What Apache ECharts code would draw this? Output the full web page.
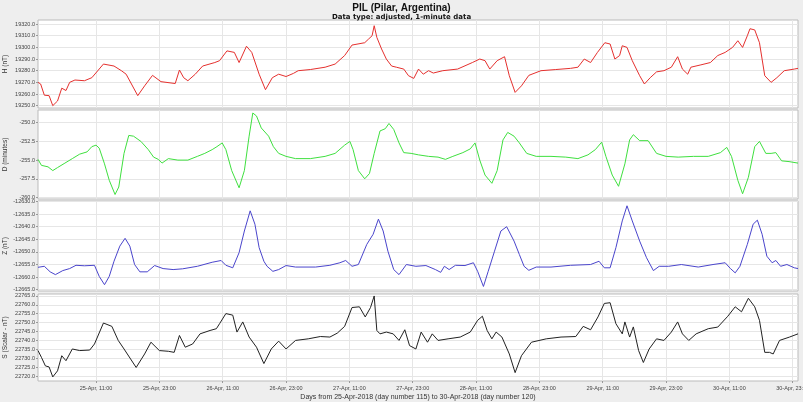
<!DOCTYPE html>
<html>
<head>
<meta charset="utf-8">
<script src="https://cdn.jsdelivr.net/npm/echarts@6/dist/echarts.min.js"></script>
<style>
html,body{margin:0;padding:0;background:#eeeeee;}
#chart{width:803px;height:402px;}
</style>
</head>
<body>
<div id="chart"></div>
<script>
// Hours since 25-Apr-2018 00:00 (x) and values
const H_hours = [0,0.5,1.2,2.1,2.8,3.7,4.5,5.3,6.0,7.0,8.8,10.2,12.4,14.4,15.8,16.7,18.9,20.2,21.7,23.3,26,26.8,27.6,28.4,29.8,31.2,33.5,34.4,35.8,37.2,38.1,39.5,40.5,41.9,43.1,44.4,45.6,47,48.4,49.3,51.6,54.4,56.3,58.1,59.5,61.9,62.6,63.3,63.7,64.2,65.1,66,67,67.9,69.3,70.2,71.2,72.1,73,74,74.9,76.7,79.5,82.3,83.7,84.7,85.6,87,88.4,89.3,90.4,91.6,93,95.3,98.1,100.9,102.3,103.5,104.7,106,107.4,108.4,109.3,110.2,110.7,111.6,112.6,114,114.9,116,117.2,118.6,120,121.2,122.1,123.1,123.7,125.6,127.4,128.8,130.2,131.6,132.6,133.5,134.4,134.9,135.8,136.7,137.7,138.9,140,141.4,143.3,144];
const H_values = [19270,19268.6,19259,19258.6,19250,19254,19265,19263,19270,19272,19271.4,19274,19285.7,19284,19280,19277,19258.6,19267,19276,19270.6,19269,19280.6,19274,19271.4,19277,19284,19287,19288.6,19297,19295.7,19287,19301,19295.7,19277,19263.7,19274,19277,19275,19277.7,19280,19281,19283,19285.7,19293,19302,19304,19307,19310,19318.6,19308.6,19298.6,19290,19284,19283,19281.4,19275.7,19273.4,19281.4,19277,19280,19278,19280,19281.4,19287,19290,19288.6,19281.4,19288.6,19292,19275.7,19261.4,19267,19276,19280,19281,19282,19283,19290,19287,19295.7,19304,19302.9,19290,19293,19301.4,19300,19288.6,19275.7,19268.6,19274,19279,19280,19283,19292,19281.4,19277,19283,19285,19287,19293,19295.7,19300,19305.7,19300,19310,19316,19315,19304,19275.7,19270,19274,19280,19281.4,19282];

const D_hours = [0,0.65,1.9,2.8,3.7,5.1,6.5,7.9,9.3,10.2,11,11.6,12.6,13.5,14.6,15.3,16.3,17.2,18.1,19.5,20.9,21.9,22.8,23.5,24.7,26.5,28.4,30.2,31.6,33,33.9,34.9,35.6,36.7,38.1,39.1,40,40.7,41.4,42.3,43.7,44.6,45.6,47,48.8,51.6,54.4,56.3,58.1,59.1,59.7,60.7,61.9,62.8,63.7,64.8,65.8,66.5,67.4,68.4,69.3,70.7,72.1,74,75.8,77.2,78.6,80.5,81.9,82.8,83.7,84.7,86,87,88.1,89,90.2,91.2,92.6,94.4,97.2,100,102.3,104.2,105.6,106.8,107.6,108.8,110,111.2,112.1,112.8,114,115.6,117.2,119,121.3,124.2,127,129.3,130.5,131.4,132.6,133.5,134.6,135.8,136.7,137.9,138.9,139.8,140.9,142.3,144];
const D_values = [-254.9,-255.7,-255.9,-256.4,-256,-255.4,-254.8,-254.2,-253.9,-253.2,-253,-253.4,-255.5,-257.7,-259.6,-258.6,-254.1,-251.7,-251.8,-252.5,-253.6,-254.6,-254.9,-255.4,-254.8,-255,-255,-254.5,-254.1,-253.6,-253.2,-252.7,-253.6,-256.4,-258.7,-256.4,-251.8,-248.7,-249.1,-250.7,-251.8,-253.2,-254.1,-254.5,-254.8,-254.8,-254.5,-254.1,-253,-252.5,-253.6,-256.4,-257.5,-256.8,-254.1,-251.1,-250.8,-250.1,-250.9,-252.7,-254,-254.1,-254.3,-254.5,-254.6,-254.9,-254.5,-254,-253.5,-252.7,-255,-257,-258.1,-256.4,-252.3,-251.3,-251.8,-252.7,-254.1,-254.5,-254.5,-254.6,-254.8,-254.3,-253.6,-252.6,-254.5,-257,-258.5,-255.5,-252.3,-251.6,-252.4,-252.4,-254.1,-254.5,-254.6,-254.5,-254.5,-254,-253.3,-254.5,-257.7,-259.5,-257.3,-253.2,-252.5,-254.1,-254.1,-254,-255.1,-255.2,-255.4];

const Z_hours = [0,1.2,2.3,3.3,4.7,6.0,7.2,8.8,10.7,11.6,12.6,13.5,14.4,15.5,16.5,17.4,18.3,19.3,20.7,22.1,23.7,25.6,27.4,30.2,33,34.7,35.6,36.9,38.1,39.1,40.2,41.1,41.9,42.8,43.4,44.5,45.6,47,48.8,52.6,55.3,57.2,58.3,59.5,60.7,62.3,63.5,64.5,65.4,66.3,67.4,68.4,69.8,71.6,73.5,75.3,76.3,77,77.9,79.1,80.9,82.5,83.3,84.4,85.3,86.5,87.7,88.8,90.2,91.2,92.1,93,94.4,97.2,100.9,104.7,106.3,107.3,108.4,109.5,110.7,111.6,112.6,114,115.3,116.6,117.7,119.5,121.9,125.1,127.9,130.2,131.2,132.1,133,134.4,135.5,136.3,137.2,138.1,139.1,139.8,140.7,141.9,143.3,144];
const Z_values = [-12656.1,-12655.7,-12657.9,-12659,-12657.4,-12656.6,-12655.3,-12655.5,-12655.3,-12659.7,-12663,-12659.7,-12653.7,-12647.7,-12644.6,-12647.7,-12655,-12657.9,-12657.9,-12655.4,-12656.6,-12657,-12656.7,-12655.7,-12654.1,-12653.4,-12655.3,-12656.3,-12650.3,-12641.7,-12633.7,-12639,-12648.3,-12653.7,-12655.7,-12657.7,-12657,-12655.4,-12656,-12656,-12655.3,-12654.3,-12653.4,-12655.7,-12655,-12647,-12643,-12637,-12641.7,-12649.7,-12657,-12659,-12655,-12655.7,-12655.4,-12657,-12658.1,-12655.7,-12657,-12655.3,-12655.4,-12654.3,-12657.7,-12663.7,-12657.7,-12649.7,-12641.7,-12640,-12645.7,-12651,-12655.7,-12657.3,-12656,-12656,-12655.3,-12655,-12653.7,-12656.3,-12656.3,-12648.3,-12637.7,-12631.7,-12637.7,-12645.7,-12652.3,-12657.4,-12655.7,-12655.7,-12655,-12656,-12655,-12654.3,-12656.6,-12658.3,-12655.7,-12647,-12639,-12637.4,-12643,-12651.7,-12654.3,-12653.4,-12655.7,-12655,-12656.3,-12656.6];

const S_hours = [0,0.65,1.4,2.1,2.8,3.7,4.5,5.3,6.5,7.9,9.8,10.7,12.4,14,15.2,16.3,18.6,20.2,21.4,23,24.7,25.8,26.8,27.9,29.3,30.7,32.6,33.8,34.4,35.6,36.9,37.7,38.8,40,41.4,42.8,44.2,45.6,47,48.8,51.2,53.5,55.3,56.7,58.1,59.5,60.9,62,63,63.7,64.2,64.8,66,67.3,68.4,69.5,70.4,71.6,72.6,73.8,74.7,75.8,77.7,80,81.9,83.3,84.2,85.1,86,86.8,87.9,89.3,90.4,91.6,93.5,96.3,99.1,101.9,103.3,104.7,106.1,107.3,108.4,109.5,110.7,111.2,112.1,112.8,113.8,114.7,115.8,117.2,118.6,120,121.2,122.1,123.3,124.7,127,128.8,130.7,132.1,133.3,134.6,135.8,136.7,137.7,138.6,139.3,140.5,142.4,144];
const S_values = [22734.3,22730.5,22725.7,22725.1,22719.5,22722.9,22731.4,22728.6,22735.2,22734.3,22734.6,22738,22749.8,22747.9,22740,22735.2,22724.8,22732.4,22739,22734.3,22733.9,22733.3,22742.8,22736.2,22738,22743.7,22745.6,22746.6,22749.4,22755.1,22754.2,22744.7,22750.4,22741.9,22736.2,22727,22735.2,22739.6,22735.2,22740,22740.9,22742.2,22741.9,22744.1,22747.9,22758.5,22758.9,22753.2,22758.5,22765,22745.6,22743.7,22744.7,22743.7,22740,22746,22737.1,22735.2,22744.7,22739,22743.7,22740,22740.9,22741.9,22744.7,22751.3,22753.6,22745.6,22740.9,22744.7,22741.9,22732.4,22721.9,22731.4,22739,22740.9,22741.9,22742.2,22747.9,22746,22753.2,22760.8,22761.2,22749.4,22743.7,22750.4,22741.9,22747.6,22734.3,22727.6,22735.2,22740.9,22740,22744.7,22750.4,22743.7,22740,22743.7,22746.6,22747.5,22753.6,22758.9,22756.1,22763.7,22758.9,22751.3,22733.3,22733.3,22732.4,22740,22741.9,22743.7];

// x tick positions (hours) and labels
const xTickHours = [11,23,35,47,59,71,83,95,107,119,131,143];
const xTickLabels = ["25-Apr, 11:00","25-Apr, 23:00","26-Apr, 11:00","26-Apr, 23:00","27-Apr, 11:00","27-Apr, 23:00","28-Apr, 11:00","28-Apr, 23:00","29-Apr, 11:00","29-Apr, 23:00","30-Apr, 11:00","30-Apr, 23:00"];

const H_ticks = [19250,19260,19270,19280,19290,19300,19310,19320];
const D_ticks = [-260,-257.5,-255,-252.5,-250];
const Z_ticks = [-12665,-12660,-12655,-12650,-12645,-12640,-12635,-12630];
const S_ticks = [22720,22725,22730,22735,22740,22745,22750,22755,22760,22765];

const titleText = "PIL (Pilar, Argentina)";
const subtitleText = "Data type: adjusted, 1-minute data";
const xAxisTitle = "Days from 25-Apr-2018 (day number 115) to 30-Apr-2018 (day number 120)";

const panels = [
  {name:"H (nT)", hours:H_hours, values:H_values, ticks:H_ticks, min:19248, max:19323.5, color:"#e5302e", top:20, height:88},
  {name:"D (minutes)", hours:D_hours, values:D_values, ticks:D_ticks, min:-260.2, max:-248.3, color:"#3fe03f", top:110, height:89},
  {name:"Z (nT)", hours:Z_hours, values:Z_values, ticks:Z_ticks, min:-12665.5, max:-12629.8, color:"#4a45cc", top:201, height:90},
  {name:"S (Scalar - nT)", hours:S_hours, values:S_values, ticks:S_ticks, min:22717.2, max:22766.1, color:"#222222", top:294, height:87}
];

const font = "'Liberation Sans', Arial, sans-serif";
const grids = [], xAxes = [], yAxes = [], series = [];
panels.forEach((p, i) => {
  grids.push({left:38, right:5, top:p.top, height:p.height, show:true, backgroundColor:"#ffffff",
    borderColor:"#bbbbbb", borderWidth:1, containLabel:false, outerBoundsMode:'none'});
  const last = i === panels.length - 1;
  xAxes.push({type:'value', gridIndex:i, min:0, max:144,
    axisLine:{show:false},
    axisTick:{show:last, customValues:xTickHours, length:2, lineStyle:{color:'#999'}},
    axisLabel:{show:last, customValues:xTickHours, fontSize:5.5, color:'#444', fontFamily:font, margin:4,
      formatter:(v)=>{const k=xTickHours.indexOf(Math.round(v)); return k>=0?xTickLabels[k]:'';}},
    splitLine:{show:true, lineStyle:{color:'#e6e6e6', width:1}},
    name: last ? xAxisTitle : '', nameLocation:'middle', nameGap:13, nameMoveOverlap:false,
    nameTextStyle:{fontSize:7, color:'#333', fontFamily:font}
  });
  yAxes.push({type:'value', gridIndex:i, min:p.min, max:p.max,
    axisLine:{show:false},
    axisTick:{show:true, customValues:p.ticks, length:2, lineStyle:{color:'#999'}},
    axisLabel:{customValues:p.ticks, fontSize:5.5, color:'#444', fontFamily:font, margin:3,
      formatter:(v)=>v.toFixed(1)},
    splitLine:{show:true, lineStyle:{color:'#e6e6e6', width:1}},
    name:p.name, nameLocation:'middle', nameGap:29, nameRotate:90, nameMoveOverlap:false,
    nameTextStyle:{fontSize:6.5, color:'#333', fontFamily:font}
  });
  series.push({type:'line', xAxisIndex:i, yAxisIndex:i, showSymbol:false, symbol:'none',
    lineStyle:{color:p.color, width:1}, itemStyle:{color:p.color},
    data:p.hours.map((h,k)=>[h,p.values[k]]), animation:false});
});

const chart = echarts.init(document.getElementById('chart'));
chart.setOption({
  backgroundColor:'#eeeeee',
  animation:false,
  title:[
    {text:titleText, left:'center', top:-2, textStyle:{fontSize:10, fontWeight:'bold', color:'#111', fontFamily:font}},
    {text:subtitleText, left:'center', top:9, textStyle:{fontSize:7, fontWeight:'bold', color:'#111', fontFamily:"'DejaVu Sans', sans-serif"}}
  ],
  grid:grids, xAxis:xAxes, yAxis:yAxes, series:series
});
</script>
</body>
</html>
